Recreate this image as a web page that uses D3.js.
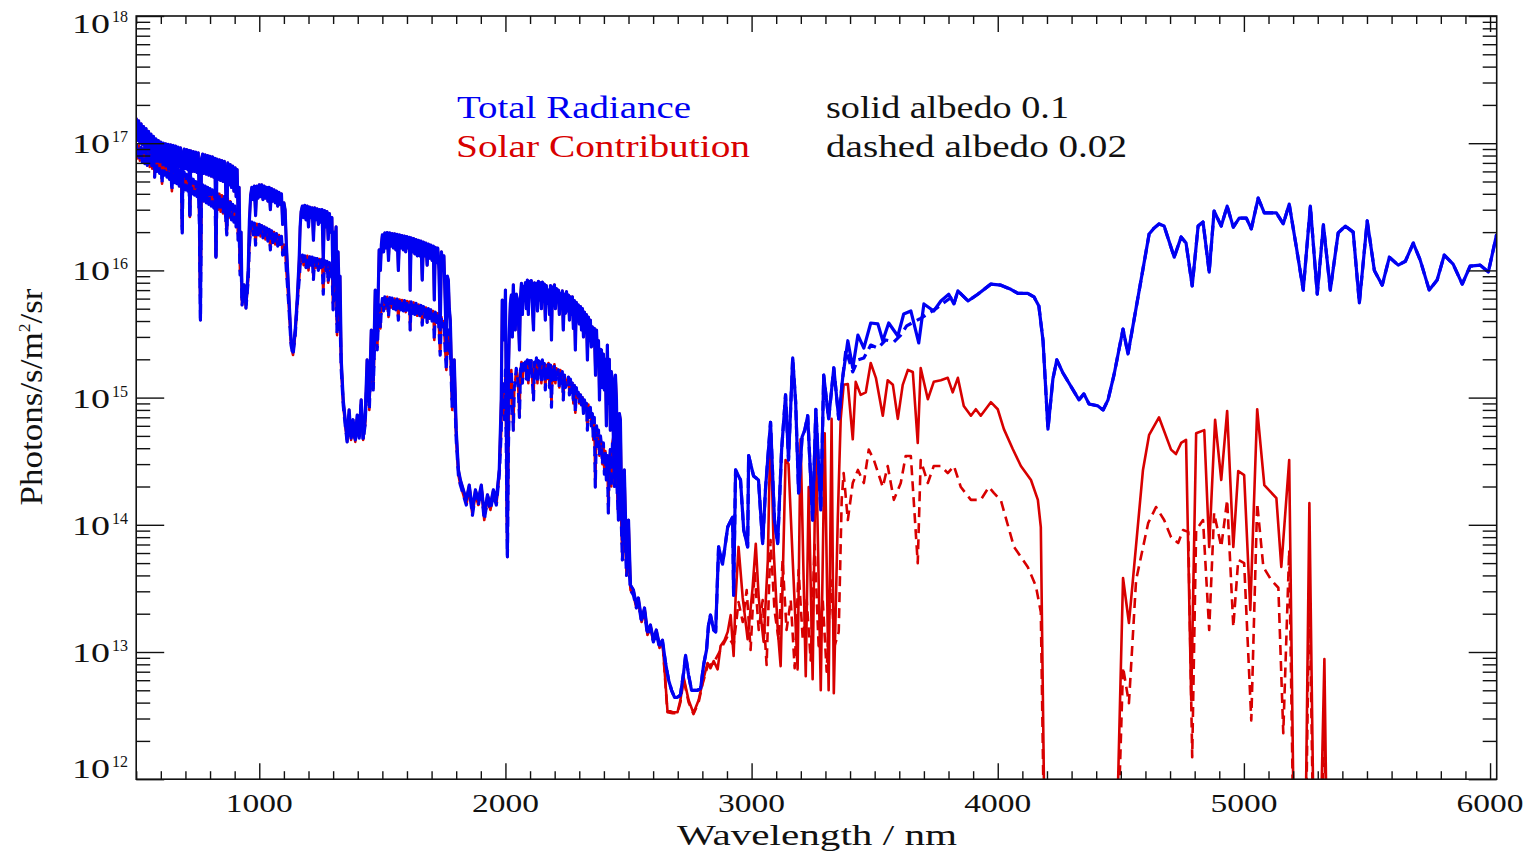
<!DOCTYPE html>
<html>
<head>
<meta charset="utf-8">
<script src="https://cdn.jsdelivr.net/npm/d3@7"></script>
<style>
  html, body { margin: 0; padding: 0; background: #ffffff; }
  svg { display: block; }
</style>
</head>
<body>
<svg id="chart" width="1535" height="851"></svg>
<script>
// ---------------------------------------------------------------------------
// Spectra: [wavelength (nm), radiance (photons/s/m^2/sr)]
// Below ~2640 nm the total radiance is entirely reflected sunlight, so the
// total and solar curves share the same samples for each surface albedo.
// ---------------------------------------------------------------------------
const reflectedAlbedo10 = [
  [500,1.58e17],[505,1.05e17],[510,1.5e17],[515,1.0e17],[520,1.42e17],[525,9.8e16],[530,1.35e17],[535,9.2e16],
  [540,1.3e17],[545,8.8e16],[550,1.24e17],[555,8.4e16],[560,1.18e17],[565,8.2e16],[570,1.13e17],[575,7.8e16],
  [580,1.08e17],[585,7.6e16],[590,1.05e17],[595,7.4e16],[600,1.02e17],[605,7.3e16],[610,1.0e17],[615,7.2e16],
  [620,9.9e16],[625,7.0e16],[630,9.8e16],[635,6.8e16],[640,9.7e16],[645,5.0e16],[650,9.6e16],[655,6.6e16],
  [660,9.5e16],[665,6.6e16],[670,9.3e16],[675,6.5e16],[680,9.2e16],[684,6.4e16],[687,2.1e16],[690,8.0e16],
  [695,9.0e16],[700,6.3e16],[705,8.9e16],[710,6.2e16],[714,8.8e16],[718,2.7e16],[722,8.7e16],[727,6.0e16],
  [732,8.6e16],[737,6.0e16],[742,8.5e16],[747,5.9e16],[752,8.4e16],[757,3.0e16],[761,4.2e15],[765,7.5e16],
  [770,8.2e16],[775,5.8e16],[780,8.1e16],[785,5.7e16],[790,8.0e16],[795,5.6e16],[800,7.9e16],[805,5.5e16],
  [810,7.8e16],[815,5.4e16],[820,7.6e16],[824,1.3e16],[828,7.5e16],[833,5.2e16],[838,7.4e16],[843,5.1e16],
  [848,7.3e16],[853,5.0e16],[858,7.2e16],[863,4.8e16],[868,2.1e16],[872,7.0e16],[877,4.7e16],[882,6.8e16],
  [887,4.5e16],[892,6.6e16],[897,4.2e16],[902,6.4e16],[906,3.8e16],[910,6.2e16],[914,2.7e16],[918,4.5e16],
  [922,1.16e16],[926,2.0e16],[930,5.85e15],[938,7.7e15],[946,5.35e15],[955,1.0e16],[960,2.5e16],[965,3.9e16],
  [970,4.5e16],[975,3.6e16],[980,4.6e16],[985,2.7e16],[990,4.6e16],[995,3.7e16],[1000,4.7e16],[1005,3.8e16],
  [1010,4.7e16],[1015,3.6e16],[1020,4.6e16],[1025,3.7e16],[1030,4.5e16],[1035,3.5e16],[1040,4.5e16],[1045,3.0e16],
  [1050,4.4e16],[1055,3.5e16],[1060,4.3e16],[1065,3.4e16],[1070,4.2e16],[1075,3.2e16],[1080,4.1e16],[1085,3.3e16],
  [1090,4.0e16],[1095,2.3e16],[1100,3.4e16],[1105,2.99e16],[1110,1.6e16],[1113,1.21e16],[1121,5.85e15],[1129,2.84e15],
  [1137,2.28e15],[1146,3.4e15],[1154,5.85e15],[1162,1.21e16],[1166,2.2e16],[1170,2.9e16],[1175,3.2e16],[1180,2.6e16],
  [1185,3.25e16],[1190,2.5e16],[1195,3.2e16],[1200,2.2e16],[1205,3.15e16],[1210,2.6e16],[1215,3.1e16],[1220,1.73e16],
  [1225,3.1e16],[1230,2.5e16],[1235,3.05e16],[1240,2.3e16],[1245,3.0e16],[1250,2.4e16],[1255,3.0e16],[1260,1.2e16],
  [1265,2.95e16],[1270,2.2e16],[1275,2.9e16],[1280,1.75e16],[1285,2.8e16],[1290,2.0e16],[1295,2.6e16],[1300,7.0e15],
  [1305,2.0e16],[1308,1.45e16],[1312,2.2e16],[1316,4.07e15],[1320,1.4e16],[1324,7.0e15],[1328,9.0e15],[1333,1.98e15],
  [1341,9.6e14],[1349,6.7e14],[1357,4.65e14],[1365,8.0e14],[1373,4.8e14],[1381,6.7e14],[1390,4.65e14],[1398,7.3e14],
  [1406,5.0e14],[1414,9.6e14],[1422,4.8e14],[1430,6.7e14],[1438,1.98e15],[1447,9.6e14],[1455,3.4e15],[1463,1.37e15],
  [1471,7.0e15],[1479,2.84e15],[1487,1.45e16],[1492,1.0e16],[1496,1.6e16],[1500,1.9e16],[1505,1.4e16],[1510,1.97e16],
  [1515,1.5e16],[1520,1.98e16],[1525,1.2e16],[1530,1.97e16],[1535,1.55e16],[1540,1.95e16],[1545,1.5e16],[1550,1.94e16],
  [1555,1.45e16],[1560,1.92e16],[1565,1.0e16],[1570,1.9e16],[1575,1.5e16],[1580,1.88e16],[1585,1.45e16],[1590,1.86e16],
  [1595,1.4e16],[1600,1.84e16],[1605,1.5e16],[1610,1.82e16],[1613,7.0e15],[1617,1.8e16],[1622,1.4e16],[1627,1.78e16],
  [1632,1.35e16],[1637,1.75e16],[1642,1.3e16],[1647,1.72e16],[1652,1.3e16],[1657,1.7e16],[1662,8.4e15],[1667,1.67e16],
  [1672,1.3e16],[1677,1.64e16],[1682,1.1e16],[1687,1.61e16],[1692,1.25e16],[1697,1.58e16],[1702,1.2e16],[1707,1.55e16],
  [1711,5.85e15],[1715,1.52e16],[1720,1.15e16],[1725,1.5e16],[1730,1.0e16],[1735,3.4e15],[1740,1.4e16],[1745,1.1e16],
  [1750,1.3e16],[1755,6.0e15],[1760,2.37e15],[1764,9.0e15],[1768,8.4e15],[1772,5.0e15],[1776,4.07e15],[1784,9.6e14],
  [1792,1.98e15],[1800,5.55e14],[1809,2.7e14],[1817,2.25e14],[1829,1.88e14],[1841,1.57e14],[1853,2.05e14],[1866,1.31e14],
  [1878,1.88e14],[1890,1.57e14],[1902,2.05e14],[1914,1.19e14],[1927,1.72e14],[1939,1.43e14],[1951,1.88e14],[1963,1.57e14],
  [1975,2.7e14],[1983,9.6e14],[1987,5.85e15],[1996,2.84e15],[2000,7.0e15],[2008,5.8e13],[2012,1.5e15],[2016,3.4e15],
  [2020,5.5e15],[2024,6.4e15],[2028,3.0e15],[2032,7.7e15],[2036,4.5e15],[2040,3.4e15],[2044,6.5e15],[2049,5.85e15],
  [2053,4.0e15],[2057,2.37e15],[2061,6.0e15],[2065,7.9e15],[2069,4.5e15],[2073,7.5e15],[2077,5.85e15],[2081,8.0e15],
  [2085,5.0e15],[2089,8.4e15],[2093,4.5e15],[2097,8.2e15],[2101,7.0e15],[2105,8.3e15],[2109,5.5e15],[2114,3.4e15],
  [2118,8.0e15],[2122,6.0e15],[2126,7.9e15],[2130,4.8e15],[2134,8.2e15],[2138,5.85e15],[2142,8.0e15],[2146,5.0e15],
  [2150,8.1e15],[2154,6.5e15],[2158,7.8e15],[2162,4.07e15],[2166,7.6e15],[2170,5.5e15],[2175,7.0e15],[2179,4.5e15],
  [2183,7.6e15],[2187,2.84e15],[2191,7.4e15],[2195,5.5e15],[2199,7.7e15],[2203,5.0e15],[2207,7.2e15],[2211,5.85e15],
  [2215,7.0e15],[2219,4.5e15],[2223,6.6e15],[2227,5.2e15],[2231,6.9e15],[2235,3.4e15],[2240,6.5e15],[2244,4.6e15],
  [2248,6.8e15],[2252,4.8e15],[2256,6.4e15],[2260,4.07e15],[2264,6.2e15],[2268,4.5e15],[2272,6.2e15],[2276,3.5e15],
  [2280,5.8e15],[2284,2.37e15],[2288,5.6e15],[2292,4.0e15],[2296,5.35e15],[2300,3.8e15],[2305,5.2e15],[2309,3.4e15],
  [2313,5.0e15],[2317,3.0e15],[2321,4.7e15],[2325,3.3e15],[2329,4.5e15],[2333,1.98e15],[2337,4.3e15],[2341,2.8e15],
  [2345,4.07e15],[2349,2.5e15],[2353,3.6e15],[2357,2.59e15],[2361,3.5e15],[2366,1.5e15],[2370,3.4e15],[2374,2.0e15],
  [2378,2.8e15],[2382,9.6e14],[2386,2.4e15],[2390,2.37e15],[2394,1.2e15],[2398,2.2e15],[2402,1.15e15],[2406,2.0e15],
  [2410,6.0e14],[2414,2.59e15],[2418,9.0e14],[2422,2.0e15],[2426,5.55e14],[2430,1.6e15],[2435,1.37e15],[2439,4.0e14],
  [2443,2.7e14],[2447,1.5e15],[2451,9.6e14],[2455,3.0e14],[2459,1.09e14],[2463,7.5e14],[2467,6.7e14],[2471,2.0e14],
  [2475,7.6e13],[2483,2.7e14],[2492,5.3e13],[2500,1.09e14],[2508,3.36e13],[2520,3.07e13],[2532,2.34e13],[2540,2.66e13],
  [2553,1.79e13],[2565,2.22e13],[2577,1.44e13],[2589,1.63e13],[2601,1.24e13],[2613,1.49e13],[2626,1.13e13],[2638,1.24e13]
];

const reflectedAlbedo02 = [
  [500,1.0e17],[505,7.6e16],[510,9.6e16],[515,7.3e16],[520,9.3e16],[525,7.1e16],[530,9.0e16],[535,6.9e16],
  [540,8.8e16],[545,6.7e16],[550,8.6e16],[555,6.5e16],[560,8.4e16],[565,6.3e16],[570,8.2e16],[575,5.4e16],
  [580,8.0e16],[585,6.0e16],[590,7.8e16],[595,5.8e16],[600,7.6e16],[605,4.8e16],[610,7.4e16],[615,5.6e16],
  [620,7.2e16],[625,5.4e16],[630,7.0e16],[635,5.2e16],[640,6.9e16],[645,4.2e16],[650,6.7e16],[655,4.9e16],
  [660,6.5e16],[665,4.8e16],[670,6.3e16],[675,4.6e16],[680,6.1e16],[684,4.5e16],[687,1.97e16],[690,5.5e16],
  [695,5.9e16],[700,4.3e16],[705,5.7e16],[710,4.2e16],[714,5.5e16],[718,2.63e16],[722,5.4e16],[727,4.0e16],
  [732,5.2e16],[737,3.9e16],[742,5.0e16],[747,3.8e16],[752,4.9e16],[757,2.2e16],[761,4.07e15],[765,4.5e16],
  [770,4.7e16],[775,3.5e16],[780,4.6e16],[785,3.4e16],[790,4.5e16],[795,3.3e16],[800,4.4e16],[805,3.2e16],
  [810,4.3e16],[815,3.1e16],[820,4.2e16],[824,1.27e16],[828,4.1e16],[833,3.0e16],[838,4.0e16],[843,2.9e16],
  [848,3.9e16],[853,2.8e16],[858,3.8e16],[863,2.7e16],[868,1.9e16],[872,3.7e16],[877,2.6e16],[882,3.5e16],
  [887,2.5e16],[892,3.3e16],[897,2.4e16],[902,3.2e16],[906,2.2e16],[910,3.0e16],[914,1.73e16],[918,2.2e16],
  [922,9.2e15],[926,1.2e16],[930,5.35e15],[938,7.0e15],[946,5.05e15],[955,8.4e15],[960,1.6e16],[965,2.1e16],
  [970,2.4e16],[975,1.9e16],[980,2.35e16],[985,1.58e16],[990,2.32e16],[995,1.9e16],[1000,2.3e16],[1005,1.85e16],
  [1010,2.25e16],[1015,1.8e16],[1020,2.2e16],[1025,1.75e16],[1030,2.15e16],[1035,1.7e16],[1040,2.1e16],[1045,1.45e16],
  [1050,2.05e16],[1055,1.65e16],[1060,2.0e16],[1065,1.6e16],[1070,1.95e16],[1075,1.55e16],[1080,1.9e16],[1085,1.6e16],
  [1090,1.85e16],[1095,1.32e16],[1100,1.6e16],[1105,1.5e16],[1110,1.0e16],[1113,8.4e15],[1121,4.9e15],[1129,2.59e15],
  [1137,2.16e15],[1146,3.1e15],[1154,5.35e15],[1162,8.4e15],[1166,1.1e16],[1170,1.25e16],[1175,1.32e16],[1180,1.1e16],
  [1185,1.3e16],[1190,1.05e16],[1195,1.3e16],[1200,1.0e16],[1205,1.28e16],[1210,1.1e16],[1215,1.27e16],[1220,8.5e15],
  [1225,1.25e16],[1230,1.05e16],[1235,1.24e16],[1240,1.0e16],[1245,1.23e16],[1250,1.05e16],[1255,1.22e16],[1260,6.5e15],
  [1265,1.2e16],[1270,1.0e16],[1275,1.18e16],[1280,8.0e15],[1285,1.15e16],[1290,9.0e15],[1295,1.1e16],[1300,4.9e15],
  [1305,9.0e15],[1308,7.7e15],[1312,9.5e15],[1316,3.1e15],[1320,6.5e15],[1324,4.9e15],[1328,4.0e15],[1333,1.65e15],
  [1341,8.75e14],[1349,6.1e14],[1357,4.48e14],[1365,7.3e14],[1373,4.65e14],[1381,6.1e14],[1390,4.48e14],[1398,6.7e14],
  [1406,4.8e14],[1414,8.75e14],[1422,4.65e14],[1430,6.1e14],[1438,1.5e15],[1447,8.0e14],[1455,2.37e15],[1463,1.15e15],
  [1471,4.07e15],[1479,2.37e15],[1487,5.35e15],[1492,3.5e15],[1496,5.0e15],[1500,6.0e15],[1505,4.8e15],[1510,6.2e15],
  [1515,5.0e15],[1520,6.2e15],[1525,4.3e15],[1530,6.1e15],[1535,5.1e15],[1540,6.05e15],[1545,5.0e15],[1550,6.0e15],
  [1555,4.9e15],[1560,5.95e15],[1565,4.07e15],[1570,5.9e15],[1575,4.9e15],[1580,5.85e15],[1585,4.8e15],[1590,5.8e15],
  [1595,4.7e15],[1600,5.75e15],[1605,4.9e15],[1610,5.7e15],[1613,3.4e15],[1617,5.65e15],[1622,4.6e15],[1627,5.6e15],
  [1632,4.5e15],[1637,5.5e15],[1642,4.4e15],[1647,5.4e15],[1652,4.4e15],[1657,5.3e15],[1662,3.72e15],[1667,5.2e15],
  [1672,4.3e15],[1677,5.1e15],[1682,3.9e15],[1687,5.0e15],[1692,4.2e15],[1697,4.9e15],[1702,4.0e15],[1707,4.8e15],
  [1711,2.84e15],[1715,4.7e15],[1720,3.9e15],[1725,4.6e15],[1730,3.5e15],[1735,2.16e15],[1740,4.3e15],[1745,3.6e15],
  [1750,4.0e15],[1755,2.4e15],[1760,1.65e15],[1764,3.2e15],[1768,3.4e15],[1772,2.2e15],[1776,2.37e15],[1784,8.0e14],
  [1792,1.37e15],[1800,4.65e14],[1809,2.46e14],[1817,2.05e14],[1829,1.72e14],[1841,1.43e14],[1853,1.88e14],[1866,1.19e14],
  [1878,1.72e14],[1890,1.43e14],[1902,1.88e14],[1914,1.09e14],[1927,1.57e14],[1939,1.31e14],[1951,1.72e14],[1963,1.43e14],
  [1975,2.46e14],[1983,5.55e14],[1987,1.3e15],[1996,6.7e14],[2000,1.65e15],[2008,5.6e13],[2012,4.0e14],[2016,9.6e14],
  [2020,1.3e15],[2024,1.65e15],[2028,9.0e14],[2032,5.55e14],[2036,1.2e15],[2040,1.37e15],[2044,1.7e15],[2049,1.5e15],
  [2053,1.1e15],[2057,7.0e14],[2061,1.6e15],[2065,1.9e15],[2069,1.3e15],[2073,1.85e15],[2077,1.74e15],[2081,1.9e15],
  [2085,1.4e15],[2089,1.98e15],[2093,1.3e15],[2097,1.95e15],[2101,1.59e15],[2105,1.95e15],[2109,1.4e15],[2114,9.6e14],
  [2118,1.9e15],[2122,1.5e15],[2126,2.05e15],[2130,1.3e15],[2134,1.95e15],[2138,1.59e15],[2142,1.9e15],[2146,1.3e15],
  [2150,1.98e15],[2154,1.6e15],[2158,1.85e15],[2162,1.15e15],[2166,1.8e15],[2170,1.4e15],[2175,1.87e15],[2179,1.2e15],
  [2183,1.8e15],[2187,8.4e14],[2191,1.75e15],[2195,1.35e15],[2199,1.83e15],[2203,1.3e15],[2207,1.7e15],[2211,1.5e15],
  [2215,1.65e15],[2219,1.2e15],[2223,1.65e15],[2227,1.3e15],[2231,1.6e15],[2235,9.6e14],[2240,1.5e15],[2244,1.2e15],
  [2248,1.26e15],[2252,1.4e15],[2256,1.45e15],[2260,1.05e15],[2264,1.4e15],[2268,1.1e15],[2272,1.3e15],[2276,9.0e14],
  [2280,1.25e15],[2284,7.6e14],[2288,1.2e15],[2292,1.0e15],[2296,1.1e15],[2300,9.0e14],[2305,1.05e15],[2309,8.75e14],
  [2313,1.0e15],[2317,7.5e14],[2321,9.6e14],[2325,8.0e14],[2329,9.0e14],[2333,5.55e14],[2337,8.8e14],[2341,7.0e14],
  [2345,8.4e14],[2349,6.0e14],[2353,7.5e14],[2357,4.65e14],[2361,7.0e14],[2365,1.98e14],[2370,6.0e14],[2374,5.0e14],
  [2378,5.55e14],[2382,3.5e14],[2386,5.0e14],[2390,4.24e14],[2394,3.0e14],[2398,4.4e14],[2402,2.5e14],[2406,3.8e14],
  [2410,2.25e14],[2414,3.5e14],[2418,1.24e14],[2422,3.0e14],[2426,3.9e14],[2430,2.0e14],[2435,4.5e14],[2439,4.9e14],
  [2443,2.0e14],[2447,2.7e14],[2451,2.5e14],[2455,1.65e14],[2459,1.2e14],[2463,2.25e14],[2467,1.5e14],[2471,1.0e14],
  [2475,5.3e13],[2483,1.09e14],[2492,4.0e13],[2500,5.3e13],[2508,3.07e13],[2520,2.8e13],[2532,2.22e13],[2540,2.47e13],
  [2553,1.72e13],[2565,2.06e13],[2577,1.36e13],[2589,1.55e13],[2601,1.2e13],[2613,1.41e13],[2626,1.075e13],[2638,1.2e13]
];

// Total radiance beyond 2640 nm (thermal emission takes over), albedo 0.1
const totalTailAlbedo10 = [
  [2650,8.3e12],[2663,6.0e12],[2675,5.0e12],[2687,4.4e12],[2699,4.4e12],[2711,4.6e12],[2724,6.9e12],[2732,9.4e12],
  [2744,6.6e12],[2756,5.0e12],[2768,5.0e12],[2781,5.0e12],[2793,5.2e12],[2805,7.9e12],[2817,1.04e13],[2825,1.63e13],
  [2833,1.95e13],[2846,1.49e13],[2854,1.44e13],[2866,6.7e13],[2882,4.9e13],[2903,9.6e13],[2923,1.15e14],[2927,2.8e13],
  [2935,2.7e14],[2955,2.25e14],[2968,9.1e13],[2984,6.7e13],[2988,3.5e14],[3008,2.42e14],[3028,2.25e14],[3045,7.1e13],
  [3057,1.98e14],[3077,6.4e14],[3093,1.09e14],[3106,7.1e13],[3122,3.9e14],[3138,1.05e15],[3150,3.23e14],[3167,2.05e15],
  [3179,9.2e14],[3191,1.78e14],[3205,4.9e14],[3216,5.55e14],[3228,7.2e14],[3248,1.09e14],[3261,8.1e14],[3281,1.31e14],
  [3293,1.5e15],[3313,6.8e14],[3334,1.71e15],[3354,6.8e14],[3370,1.43e15],[3391,2.8e15],[3411,1.71e15],[3432,3.1e15],
  [3456,2.45e15],[3484,3.86e15],[3513,3.8e15],[3533,2.8e15],[3557,3.86e15],[3594,3.05e15],[3618,4.54e15],[3647,4.8e15],
  [3679,2.69e15],[3700,5.45e15],[3740,4.8e15],[3769,5.75e15],[3801,6.5e15],[3822,5.45e15],[3838,6.9e15],[3879,5.75e15],
  [3919,6.5e15],[3972,7.8e15],[4013,7.65e15],[4053,7.1e15],[4082,6.6e15],[4122,6.6e15],[4147,6.2e15],[4167,5.25e15],
  [4184,2.8e15],[4204,5.65e14],[4224,1.4e15],[4240,1.98e15],[4265,1.56e15],[4330,9.6e14],[4350,1.07e15],[4371,8.9e14],
  [4407,8.6e14],[4428,8.0e14],[4448,9.6e14],[4472,1.5e15],[4509,3.46e15],[4529,2.2e15],[4562,5.05e15],[4615,1.93e16],
  [4635,2.15e16],[4655,2.32e16],[4676,2.23e16],[4717,1.27e16],[4745,1.83e16],[4765,1.64e16],[4790,7.55e15],[4814,2.23e16],
  [4834,2.4e16],[4859,9.7e15],[4879,2.93e16],[4908,2.23e16],[4932,3.2e16],[4957,2.19e16],[4981,2.58e16],[5010,2.58e16],
  [5030,2.12e16],[5058,3.7e16],[5083,2.83e16],[5132,2.83e16],[5160,2.32e16],[5184,3.32e16],[5213,1.53e16],[5241,7.0e15],
  [5270,3.2e16],[5298,6.5e15],[5323,2.28e16],[5351,7.0e15],[5383,1.97e16],[5412,2.23e16],[5444,2.0e16],[5469,5.55e15],
  [5501,2.45e16],[5530,1.0e16],[5562,7.65e15],[5591,1.27e16],[5627,1.1e16],[5656,1.18e16],[5688,1.64e16],[5716,1.21e16],
  [5753,7.0e15],[5785,8.4e15],[5814,1.32e16],[5850,1.12e16],[5887,7.8e15],[5919,1.08e16],[5960,1.1e16],[5993,9.7e15],
  [6027,1.93e16]
];

// Window where the albedo 0.02 total radiance sits visibly below the albedo 0.1 curve
const totalTailAlbedo02 = [
  [3383,2.37e15],[3411,1.59e15],[3432,1.98e15],[3456,2.05e15],[3484,2.59e15],[3513,2.45e15],[3545,2.84e15],[3578,2.74e15],
  [3606,3.1e15],[3630,3.66e15],[3659,3.93e15],[3687,4.2e15],[3720,4.6e15],[3752,5.05e15],[3785,5.65e15],[3809,6.1e15]
];

// Solar contribution beyond 2640 nm (1e10 = no signal, falls off the axis)
const solarTailAlbedo10 = [
  [2658,3.5e12],[2679,3.36e12],[2699,3.36e12],[2711,4.2e12],[2724,6.3e12],[2744,4.2e12],[2764,3.3e12],[2785,4.2e12],
  [2801,5.8e12],[2821,8.2e12],[2833,7.45e12],[2846,8.5e12],[2862,7.3e12],[2874,1.115e13],[2890,1.24e13],[2903,1.44e13],
  [2915,1.95e13],[2927,9.3e12],[2935,2.66e13],[2947,6.7e13],[2964,2.66e13],[2984,1.26e13],[3004,3.18e13],[3017,7.1e13],
  [3029,2.66e13],[3049,1.2e13],[3066,5.3e13],[3077,6.4e14],[3090,6.2e13],[3106,1.52e13],[3118,7.75e12],[3138,3.23e14],
  [3150,3.0e14],[3167,5.3e13],[3187,7.3e12],[3199,4.7e14],[3220,6.45e12],[3232,1.98e14],[3248,6.1e12],[3261,5.25e14],
  [3281,5.0e12],[3297,5.25e14],[3313,5.0e12],[3325,6.8e14],[3334,4.74e12],[3350,1.09e14],[3362,6.8e14],[3374,1.26e15],
  [3391,1.28e15],[3411,4.7e14],[3423,1.33e15],[3443,1.05e15],[3464,1.1e15],[3484,1.87e15],[3505,1.43e15],[3533,7.2e14],
  [3553,1.37e15],[3574,1.26e15],[3594,6.8e14],[3614,1.26e15],[3635,1.65e15],[3655,1.59e15],[3675,4.4e14],[3687,1.71e15],
  [3716,9.7e14],[3740,1.33e15],[3769,1.37e15],[3797,1.43e15],[3817,1.1e15],[3838,1.43e15],[3862,8.6e14],[3891,7.2e14],
  [3911,8.1e14],[3931,7.2e14],[3972,9.2e14],[4000,8.1e14],[4025,5.65e14],[4061,3.94e14],[4094,2.9e14],[4135,2.25e14],
  [4163,1.57e14],[4175,9.6e13],[4200,1e10],[4464,1e10],[4509,3.82e13],[4533,1.69e13],[4590,2.7e14],[4615,5.1e14],
  [4655,7.0e14],[4704,3.9e14],[4724,3.6e14],[4745,4.4e14],[4765,4.65e14],[4786,4.2e12],[4806,5.25e14],[4839,5.55e14],
  [4859,6.7e13],[4883,6.7e14],[4908,2.25e14],[4932,7.85e14],[4957,6.7e13],[4977,2.65e14],[5001,2.46e14],[5026,2.14e13],
  [5054,8.1e14],[5083,2.05e14],[5132,1.62e14],[5152,4.66e13],[5184,3.23e14],[5213,1e10],[5241,1e10],[5266,1.48e14],
  [5294,1e10],[5327,8.8e12],[5347,1e10]
];

const solarTailAlbedo02 = [
  [2658,3.36e12],[2679,3.3e12],[2699,3.3e12],[2711,4.03e12],[2724,6.1e12],[2744,4.03e12],[2764,3.25e12],[2785,4.03e12],
  [2801,5.6e12],[2821,7.75e12],[2846,8.2e12],[2874,1.04e13],[2903,1.34e13],[2927,1.13e13],[2947,2.47e13],[2964,1.72e13],
  [2980,3.07e13],[2996,1.04e13],[3012,4.26e13],[3029,1.49e13],[3045,2.56e13],[3061,7.9e12],[3077,7.6e13],[3093,2.14e13],
  [3110,1.24e13],[3126,5.3e13],[3142,1.49e13],[3159,2.56e13],[3175,7.45e12],[3191,4.41e13],[3208,1.24e13],[3224,2.56e13],
  [3240,8.6e12],[3256,6.95e13],[3273,1.04e13],[3289,2.56e13],[3305,7.0e12],[3321,3.68e13],[3338,1.13e13],[3354,1.44e13],
  [3366,1.57e14],[3374,2.55e14],[3391,1.09e14],[3411,2.13e14],[3432,2.7e14],[3456,2.13e14],[3476,3.9e14],[3497,3.23e14],
  [3533,1.98e14],[3553,2.9e14],[3578,1.57e14],[3606,2.13e14],[3626,3.47e14],[3647,3.47e14],[3675,5.0e13],[3687,3.23e14],
  [3716,2.13e14],[3740,2.9e14],[3769,2.9e14],[3797,2.55e14],[3822,2.9e14],[3850,1.98e14],[3891,1.57e14],[3931,1.57e14],
  [3964,1.98e14],[3984,1.78e14],[4013,1.55e14],[4066,6.7e13],[4122,4.66e13],[4155,3.3e13],[4175,2.06e13],[4200,1e10],
  [4464,1e10],[4509,7.6e12],[4533,3.96e12],[4562,3.68e13],[4611,1.03e14],[4643,1.38e14],[4676,1.09e14],[4704,8.0e13],
  [4733,7.2e13],[4753,9.1e13],[4774,8.8e13],[4790,1.49e12],[4806,9.1e13],[4834,1.09e14],[4859,1.49e13],[4879,1.24e14],
  [4908,6.7e13],[4932,1.57e14],[4957,1.57e13],[4977,5.3e13],[5001,5.0e13],[5030,2.9e12],[5054,1.48e14],[5079,4.66e13],
  [5111,3.68e13],[5140,3.2e13],[5160,2.3e12],[5184,6.34e13],[5213,1e10],[5241,1e10],[5266,3.68e13],[5294,1e10],
  [5327,2.3e12],[5347,1e10]
];

// Axis ticks and labels
const wavelengthTicks = [1000, 2000, 3000, 4000, 5000, 6000];
const wavelengthTickLabels = ["1000", "2000", "3000", "4000", "5000", "6000"];
const decadeExponents = [12, 13, 14, 15, 16, 17, 18];
const legendSeries = ["Total Radiance", "Solar Contribution"];
const legendStyles = ["solid albedo 0.1", "dashed albedo 0.02"];
const xTitle = "Wavelength / nm";

// Assemble the four plotted curves
const totalAlbedo10 = reflectedAlbedo10.concat(totalTailAlbedo10);
const totalAlbedo02 = reflectedAlbedo02.concat(
  totalTailAlbedo10.filter(d => d[0] < totalTailAlbedo02[0][0]),
  totalTailAlbedo02,
  totalTailAlbedo10.filter(d => d[0] > totalTailAlbedo02[totalTailAlbedo02.length - 1][0])
);
const solarAlbedo10 = reflectedAlbedo10.concat(solarTailAlbedo10);
const solarAlbedo02 = reflectedAlbedo02.concat(solarTailAlbedo02);

// ---------------------------------------------------------------------------
const BLUE = "#0000f2";
const RED = "#d80000";
const INK = "#111111";
const FONT = "'Liberation Serif', 'Times New Roman', serif";

const plot = { left: 136.2, right: 1496.7, top: 16, bottom: 779.2 };

const x = d3.scaleLinear().domain([500, 6027]).range([plot.left, plot.right]);
const y = d3.scaleLog().domain([1e12, 1e18]).range([plot.bottom, plot.top]);

const svg = d3.select("#chart");
svg.append("rect").attr("width", 1535).attr("height", 851).attr("fill", "#ffffff");

svg.append("defs").append("clipPath").attr("id", "plot-clip")
  .append("rect")
  .attr("x", plot.left).attr("y", plot.top)
  .attr("width", plot.right - plot.left).attr("height", plot.bottom - plot.top);

// Curves: solar first so the total radiance lies on top where they coincide
const line = d3.line().x(d => x(d[0])).y(d => y(d[1]));
const curves = svg.append("g").attr("clip-path", "url(#plot-clip)")
  .attr("fill", "none").attr("stroke-linejoin", "round").attr("stroke-linecap", "butt");

const layers = [
  { data: solarAlbedo10, color: RED,  width: 2.6, dash: null,   offset: 0 },
  { data: solarAlbedo02, color: RED,  width: 2.6, dash: "10,6", offset: 8 },
  { data: totalAlbedo10, color: BLUE, width: 3.2, dash: null,   offset: 0 },
  { data: totalAlbedo02, color: BLUE, width: 3.2, dash: "10,6", offset: 0 }
];
layers.forEach(s => {
  const p = curves.append("path")
    .attr("d", line(s.data))
    .attr("stroke", s.color)
    .attr("stroke-width", s.width);
  if (s.dash) p.attr("stroke-dasharray", s.dash).attr("stroke-dashoffset", s.offset);
});

// Frame
svg.append("rect")
  .attr("x", plot.left).attr("y", plot.top)
  .attr("width", plot.right - plot.left).attr("height", plot.bottom - plot.top)
  .attr("fill", "none").attr("stroke", INK).attr("stroke-width", 1.6);

// Tick marks on all four sides
const minorX = d3.range(500, 6001, 100).filter(v => v % 1000 !== 0);
const minorY = [];
decadeExponents.slice(0, -1).forEach(e => { for (let k = 2; k <= 9; k++) minorY.push(k * Math.pow(10, e)); });
const majorY = decadeExponents.map(e => Math.pow(10, e));

function tickLayer(axis, tx, ty) {
  const g = svg.append("g").attr("transform", `translate(${tx},${ty})`).call(axis);
  g.select(".domain").remove();
  g.selectAll(".tick line").attr("stroke", INK).attr("stroke-width", 1.4);
  g.selectAll(".tick text").remove();
  return g;
}
tickLayer(d3.axisBottom(x).tickValues(minorX).tickSizeInner(-8).tickSizeOuter(0), 0, plot.bottom);
tickLayer(d3.axisBottom(x).tickValues(wavelengthTicks).tickSizeInner(-16).tickSizeOuter(0), 0, plot.bottom);
tickLayer(d3.axisTop(x).tickValues(minorX).tickSizeInner(-8).tickSizeOuter(0), 0, plot.top);
tickLayer(d3.axisTop(x).tickValues(wavelengthTicks).tickSizeInner(-16).tickSizeOuter(0), 0, plot.top);
tickLayer(d3.axisLeft(y).tickValues(minorY).tickSizeInner(-14).tickSizeOuter(0), plot.left, 0);
tickLayer(d3.axisLeft(y).tickValues(majorY).tickSizeInner(-28).tickSizeOuter(0), plot.left, 0);
tickLayer(d3.axisRight(y).tickValues(minorY).tickSizeInner(-14).tickSizeOuter(0), plot.right, 0);
tickLayer(d3.axisRight(y).tickValues(majorY).tickSizeInner(-28).tickSizeOuter(0), plot.right, 0);

// Text helper: fixed font size and rendered width
function txt(str, px, py, size, width, anchor, color) {
  return svg.append("text")
    .attr("x", px).attr("y", py)
    .attr("font-family", FONT).attr("font-size", size)
    .attr("fill", color || INK)
    .attr("text-anchor", anchor || "start")
    .attr("textLength", width).attr("lengthAdjust", "spacingAndGlyphs")
    .text(str);
}

// Wavelength tick labels
wavelengthTicks.forEach((v, i) => {
  txt(wavelengthTickLabels[i], x(v), 812, 26, 67, "middle");
});

// Power-of-ten labels
decadeExponents.forEach(e => {
  const ty = y(Math.pow(10, e));
  const base = e === 18 ? ty + 17 : (e === 12 ? ty - 1 : ty + 10);
  txt("10", 110, base, 27, 38, "end");
  txt(String(e), 112, base - 11, 17, 16, "start");
});

// Axis titles
txt(xTitle, 817, 845, 30, 280, "middle");

const yt = svg.append("text")
  .attr("transform", "translate(42,397) rotate(-90)")
  .attr("font-family", FONT).attr("font-size", 32).attr("fill", INK)
  .attr("text-anchor", "middle")
  .attr("textLength", 217).attr("lengthAdjust", "spacingAndGlyphs");
yt.append("tspan").text("Photons/s/m");
yt.append("tspan").attr("dy", -12).attr("font-size", 16).text("2");
yt.append("tspan").attr("dy", 12).text("/sr");

// Legend
txt(legendSeries[0], 457, 118, 31, 234, "start", BLUE);
txt(legendSeries[1], 456, 157, 31, 294, "start", RED);
txt(legendStyles[0], 826, 118, 31, 243, "start", INK);
txt(legendStyles[1], 826, 157, 31, 301, "start", INK);
</script>
</body>
</html>
